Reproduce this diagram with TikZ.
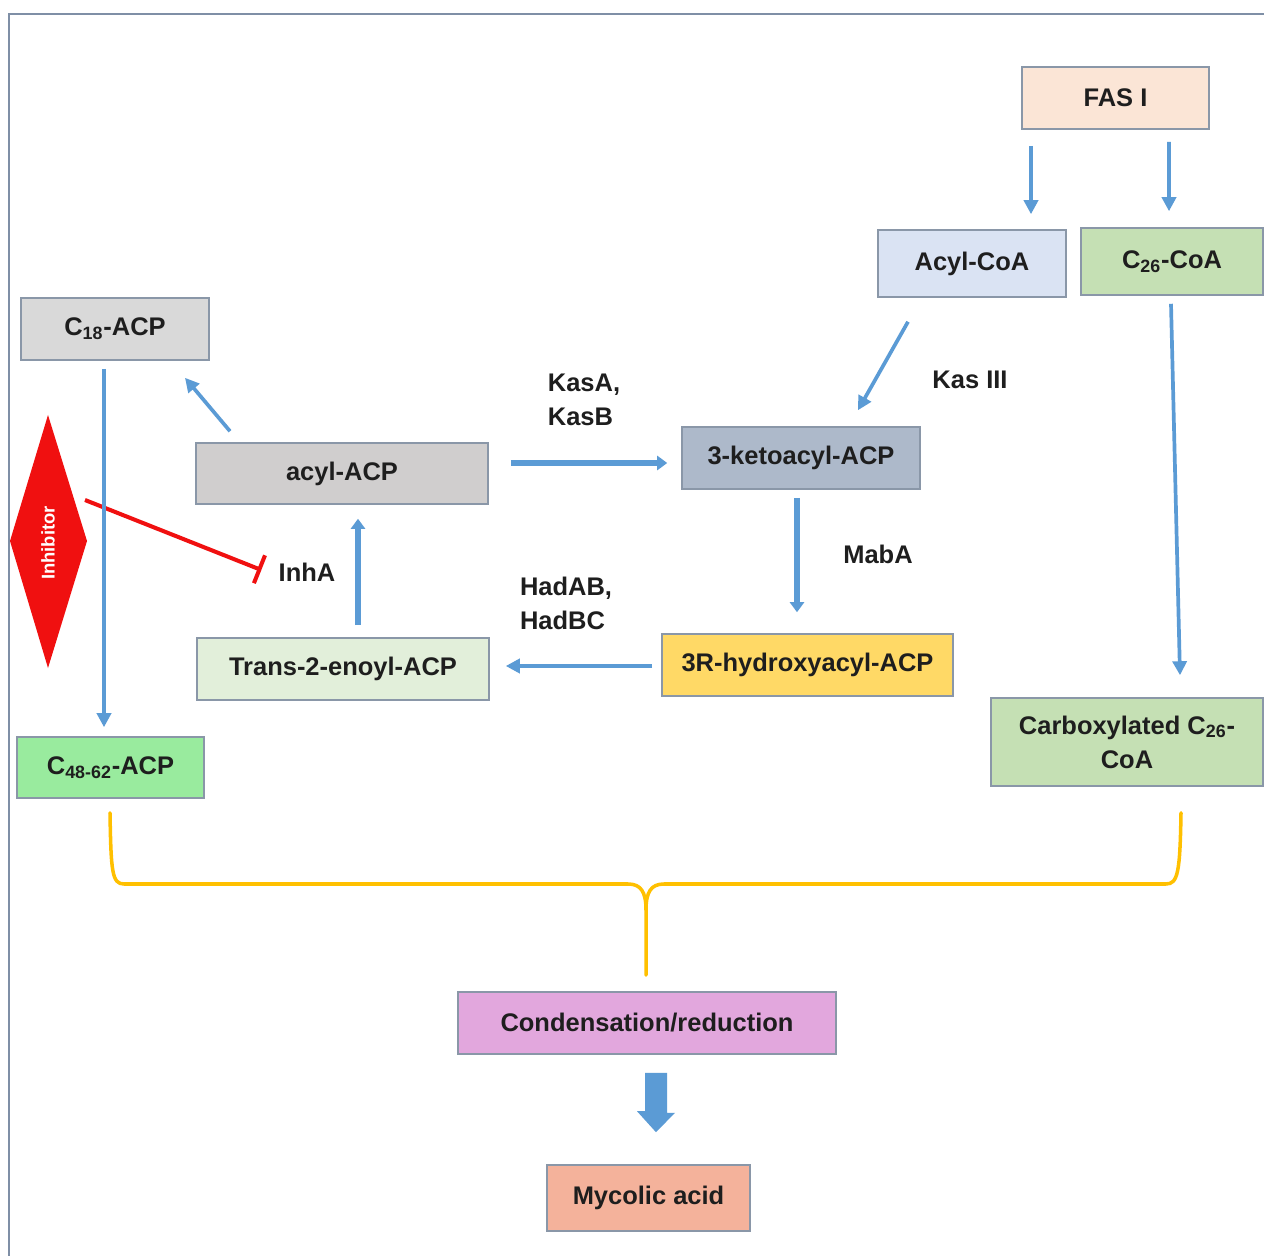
\documentclass[tikz,border=0pt]{standalone}
\usepackage{fontspec}
\setmainfont{Liberation Sans}
\usetikzlibrary{arrows.meta,calc}
\definecolor{framecol}{HTML}{7F8FA6}
\definecolor{bordercol}{HTML}{8A97A8}
\definecolor{arrblue}{HTML}{5B9BD5}
\definecolor{txtcol}{HTML}{1E1E1E}
\definecolor{fasfill}{HTML}{FBE5D6}
\definecolor{acoafill}{HTML}{DAE3F3}
\definecolor{greenfill}{HTML}{C5E0B4}
\definecolor{c18fill}{HTML}{D9D9D9}
\definecolor{acpfill}{HTML}{D0CECE}
\definecolor{ketofill}{HTML}{ADB9CA}
\definecolor{hydfill}{HTML}{FFD966}
\definecolor{enoylfill}{HTML}{E2EFDA}
\definecolor{c48fill}{HTML}{99EB9E}
\definecolor{condfill}{HTML}{E2A7DD}
\definecolor{mycfill}{HTML}{F4B29B}
\definecolor{bracecol}{HTML}{FFC000}
\definecolor{inhred}{HTML}{F01010}
\newcommand{\lblfont}{\fontsize{14.5pt}{19.3pt}\selectfont\bfseries}
\tikzset{
  box/.style={draw=bordercol, line width=0.9pt, inner sep=0pt, align=center,
    font=\lblfont, text=txtcol},
  lbl/.style={inner sep=0pt, font=\lblfont, text=txtcol},
  thinarr/.style={draw=arrblue, line width=2.1pt, -{Triangle[length=0.28cm,width=0.28cm]}},
  thickarr/.style={draw=arrblue, line width=3.4pt, -{Triangle[length=0.2cm,width=0.28cm]}},
  bracepath/.style={draw=bracecol, line width=2pt, line cap=round},
  inhline/.style={draw=inhred, line width=2.3pt, -{Bar[width=0.6cm]}}
}
\begin{document}
\begin{tikzpicture}[x=0.02cm, y=-0.02cm]
\useasboundingbox (0,0) rectangle (1264,1256);
\fill[white] (0,0) rectangle (1264,1256);
\draw[framecol, line width=1.2pt] (9,1256) -- (9,14) -- (1264,14);

% nodes
\node[box, fill=fasfill, minimum width=3.74cm, minimum height=1.24cm] (fas) at (1115.5,98) {FAS I};
\node[box, fill=acoafill, minimum width=3.76cm, minimum height=1.34cm] (acoa) at (972,263.5) {Acyl-CoA};
\node[box, fill=greenfill, minimum width=3.64cm, minimum height=1.34cm] (c26) at (1172,261.5) {C\textsubscript{26}-CoA};
\node[box, fill=c18fill, minimum width=3.76cm, minimum height=1.24cm] (c18) at (115,329) {C\textsubscript{18}-ACP};
\node[box, fill=acpfill, minimum width=5.84cm, minimum height=1.22cm] (acp) at (342,473.5) {acyl-ACP};
\node[box, fill=ketofill, minimum width=4.76cm, minimum height=1.24cm] (keto) at (801,458) {3-ketoacyl-ACP};
\node[box, fill=hydfill, minimum width=5.82cm, minimum height=1.24cm] (hyd) at (807.5,665) {3R-hydroxyacyl-ACP};
\node[box, fill=enoylfill, minimum width=5.84cm, minimum height=1.24cm] (enoyl) at (343,669) {Trans-2-enoyl-ACP};
\node[box, fill=c48fill, minimum width=3.74cm, minimum height=1.22cm] (c48) at (110.5,767.5) {C\textsubscript{48-62}-ACP};
\node[box, fill=greenfill, minimum width=5.44cm, minimum height=1.76cm] (carb) at (1127,742) {Carboxylated C\textsubscript{26}-\\CoA};
\node[box, fill=condfill, minimum width=7.56cm, minimum height=1.24cm] (cond) at (647,1023) {Condensation/reduction};
\node[box, fill=mycfill, minimum width=4.06cm, minimum height=1.32cm] (myc) at (648.5,1198) {Mycolic acid};

% labels
\node[lbl, align=left] (kasab) at (584,400) {KasA,\\KasB};
\node[lbl] (kas3) at (970,380) {Kas III};
\node[lbl] (maba) at (878,554) {MabA};
\node[lbl, align=left] (had) at (566,603) {HadAB,\\HadBC};
\node[lbl] (inha) at (307,572) {InhA};

% inhibitor
\fill[inhred] (48,415) -- (87,541) -- (48,668) -- (10,541) -- cycle;
\node[inner sep=0pt, rotate=90, text=white, font=\fontsize{10.5pt}{12pt}\selectfont\bfseries] (inhtxt) at (48,543) {Inhibitor};
\coordinate (inhsrc) at (85,500);
\draw[inhline] (inhsrc) -- ($(inha.west)+(-17,-2)$);

% arrows
\draw[thinarr] ($(fas.south)+(-84.5,16)$) -- ($(acoa.north)+(59,-15)$);
\draw[thinarr] ($(fas.south)+(53.5,12)$) -- ($(c26.north)+(-3,-16)$);
\draw[thinarr] ($(acoa.south)+(-64,24)$) -- ($(keto.north)+(57,-16)$);
\draw[thinarr] ($(c26.south)+(-1,8)$) -- ($(carb.north)+(53,-22)$);
\draw[thinarr] ($(c18.south)+(-11,8)$) -- ($(c48.north)+(-6.5,-9)$);
\draw[thinarr] ($(acp.north)+(-112,-11)$) -- ($(c18.south)+(70,17)$);
\draw[thickarr] ($(acp.east)+(22,-10.5)$) -- ($(keto.west)+(-14,5)$);
\draw[thickarr] ($(keto.south)+(-4,8)$) -- ($(hyd.north)+(-10.5,-21)$);
\draw[thinarr] ($(hyd.west)+(-9,1)$) -- ($(enoyl.east)+(16,-3)$);
\draw[thickarr] ($(enoyl.north)+(15,-12)$) -- ($(acp.south)+(16,14)$);

% brace
\draw[bracepath] ($(c48.south)+(-0.5,14)$) .. controls (111,872) and (112,884) .. (124,884)
  -- (628,884) .. controls (641,884) and (646,892) .. (646,910) -- (646,975);
\draw[bracepath] ($(carb.south)+(54,26)$) .. controls (1180,872) and (1178,884) .. (1166,884)
  -- (664,884) .. controls (651,884) and (646,892) .. (646,910);

% block arrow
\fill[arrblue] ($(cond.south)+(-2,18)$) -- ++(22,0) -- ++(0,40) -- ++(8,0)
  -- ($(myc.north)+(7.5,-32)$) -- ++(-19,-21) -- ++(8,0) -- cycle;
\end{tikzpicture}
\end{document}
